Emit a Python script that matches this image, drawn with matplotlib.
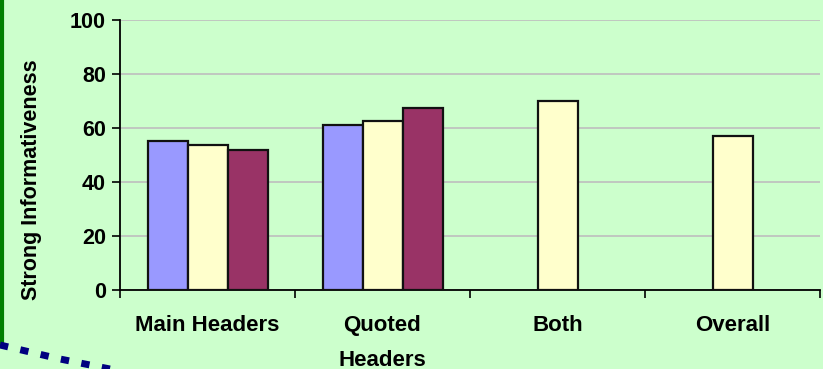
import numpy as np
import matplotlib.pyplot as plt
from matplotlib.lines import Line2D

plt.rcParams['font.family'] = ['Liberation Sans', 'DejaVu Sans']
plt.rcParams['font.weight'] = 'bold'

categories = ['Main Headers', 'Quoted\nHeaders', 'Both', 'Overall']
series_blue = [55.3, 61.0, np.nan, np.nan]
series_yellow = [53.6, 62.6, 70.1, 57.0]
series_red = [52.0, 67.5, np.nan, np.nan]
y_ticks = [0, 20, 40, 60, 80, 100]

W, H = 823, 369
fig = plt.figure(figsize=(W / 100, H / 100), dpi=100)
fig.patch.set_facecolor('#CCFFCC')
ax = fig.add_axes([120 / W, 1 - 290 / H, 700 / W, 270 / H])
ax.set_facecolor('#CCFFCC')

x = np.arange(len(categories))
bw = 40 / 175
for off, vals, col in [(-1, series_blue, '#9999FF'),
                       (0, series_yellow, '#FFFFCC'),
                       (1, series_red, '#993366')]:
    ax.bar(x + off * bw, vals, bw, color=col, edgecolor='#111111',
           linewidth=1.6, zorder=3)

ax.set_xlim(-0.5, len(categories) - 0.5)
ax.set_ylim(0, 100)
ax.set_yticks(y_ticks)
ax.set_yticklabels([str(v) for v in y_ticks], fontsize=15.5, fontweight='bold')
ax.yaxis.grid(True, color='#BEBEBE', linewidth=1.2, zorder=0)
ax.set_axisbelow(True)

# category boundaries carry the ticks, labels sit at centres
ax.set_xticks(np.arange(len(categories) + 1) - 0.5)
ax.set_xticklabels([])
ax.set_xticks(x, minor=True)
ax.set_xticklabels(categories, minor=True, fontsize=16, fontweight='bold',
                   linespacing=1.85, va='top')
ax.tick_params(axis='x', which='minor', length=0, pad=18)
ax.tick_params(axis='x', which='major', length=6, width=1.2, direction='out')
ax.tick_params(axis='y', length=6, width=1.2, direction='out', pad=4)

for s in ['top', 'right']:
    ax.spines[s].set_visible(False)
for s in ['left', 'bottom']:
    ax.spines[s].set_linewidth(1.3)
    ax.spines[s].set_color('black')

ax.set_ylabel('Strong Informativeness', fontsize=15.5, fontweight='bold')
ax.yaxis.set_label_coords(-78 / 700, 0.41)

# frame decorations at the slide edge
fig.add_artist(Line2D([1.5 / W, 1.5 / W], [1, 1 - 345 / H], color='#008000',
                      linewidth=3, transform=fig.transFigure))
px = np.array([0, 30, 60, 90, 120])
py = np.array([345, 352, 359, 365, 371])
fig.add_artist(Line2D(px / W, 1 - py / H, color='#000080', linewidth=5,
                      linestyle=(0, (1.2, 1.8)), transform=fig.transFigure))

fig.savefig('out.png', dpi=100, facecolor=fig.get_facecolor())
